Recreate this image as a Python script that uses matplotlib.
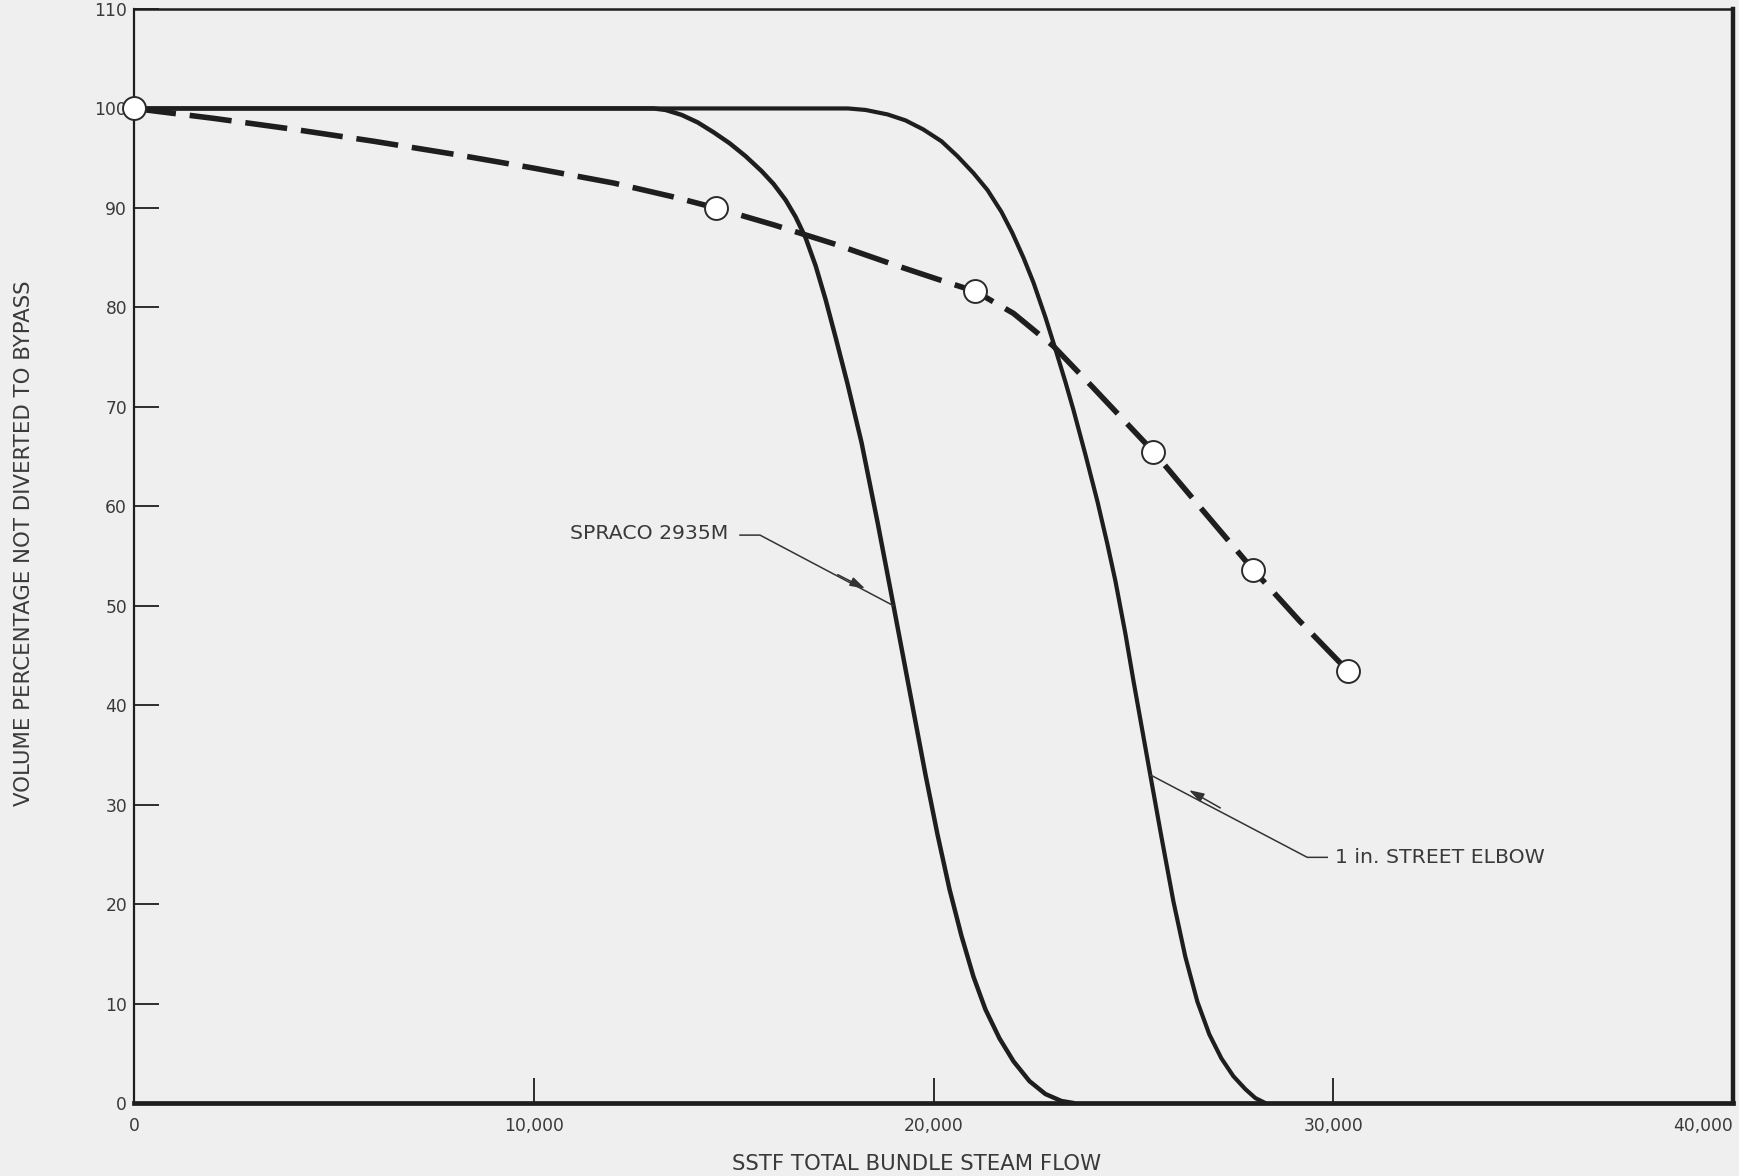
import matplotlib
matplotlib.use("Agg")
import matplotlib.pyplot as plt

# ---- data (steam flow, percent not diverted) ----
spraco_x = [0, 5000, 10000, 13000, 13300, 13700, 14100, 14500, 14900, 15300, 15700,
            16000, 16300, 16550, 16800, 17050, 17300, 17550, 17850, 18200, 18600,
            19000, 19400, 19800, 20100, 20400, 20700, 21000, 21300, 21650, 22000,
            22400, 22800, 23200, 23500]
spraco_y = [100, 100, 100, 100, 99.85, 99.35, 98.6, 97.6, 96.5, 95.2, 93.7,
            92.4, 90.8, 89.1, 87.0, 84.2, 80.8, 77.0, 72.3, 66.4, 58.4,
            50.0, 41.5, 33.0, 27.0, 21.5, 16.8, 12.7, 9.4, 6.5, 4.2,
            2.2, 0.9, 0.2, 0]

elbow_x = [0, 10000, 17860, 18300, 18850, 19300, 19740, 20200, 20600, 21000, 21350,
           21700, 21970, 22250, 22500, 22800, 23050, 23300, 23500, 23800, 24100,
           24350, 24550, 24800, 25000, 25200, 25400, 25700, 26000, 26300, 26600,
           26900, 27200, 27500, 27800, 28050, 28300]
elbow_y = [100, 100, 100, 99.85, 99.4, 98.8, 97.9, 96.7, 95.2, 93.5, 91.8,
           89.6, 87.5, 85.0, 82.5, 79.0, 75.8, 72.5, 69.7, 65.2, 60.5,
           56.2, 52.5, 47.2, 42.5, 38.0, 33.5, 26.8, 20.3, 14.7, 10.2,
           6.9, 4.5, 2.7, 1.4, 0.5, 0]

dashed_x = [0, 1000, 2000, 4000, 6000, 8000, 10000, 12000, 13500, 14550, 16000,
            17500, 19000, 20200, 21050, 22000, 23000, 24000, 25500, 26650, 28000,
            29150, 30380]
dashed_y = [100, 99.5, 99.0, 97.9, 96.7, 95.4, 94.0, 92.5, 91.1, 90.0, 88.3,
            86.4, 84.3, 82.7, 81.6, 79.4, 76.1, 71.9, 65.5, 60.0, 53.6,
            48.5, 43.4]

point_x = [0, 14550, 21050, 25500, 28000, 30380]
point_y = [100, 90.0, 81.6, 65.5, 53.6, 43.4]

x_ticks = [0, 10000, 20000, 30000, 40000]
x_ticklabels = ["0", "10,000", "20,000", "30,000", "40,000"]
y_ticks = [0, 10, 20, 30, 40, 50, 60, 70, 80, 90, 100, 110]

label_spraco = "SPRACO 2935M"
label_elbow = "1 in. STREET ELBOW"
xlabel = "SSTF TOTAL BUNDLE STEAM FLOW"
ylabel = "VOLUME PERCENTAGE NOT DIVERTED TO BYPASS"

# ---- figure ----
W, H = 1739, 1176
bg = "#efefef"
ink = "#1e1e1e"
txt = "#3a3a3a"
plt.rcParams["font.family"] = ["DejaVu Sans"]

fig = plt.figure(figsize=(W / 100, H / 100), dpi=100, facecolor=bg)
ax = fig.add_axes([134 / W, 1 - 1103 / H, (1733 - 134) / W, (1103 - 9) / H])
ax.set_facecolor(bg)
ax.set_xlim(0, 40000)
ax.set_ylim(0, 110)

ax.plot(spraco_x, spraco_y, color=ink, lw=3.2, solid_capstyle="round",
        solid_joinstyle="round", zorder=3)
ax.plot(elbow_x, elbow_y, color=ink, lw=3.0, solid_capstyle="round",
        solid_joinstyle="round", zorder=3)
ax.plot(dashed_x, dashed_y, color=ink, lw=4.0, dashes=(7.6, 2.5),
        dash_joinstyle="round", zorder=3)
ax.plot(point_x, point_y, ls="none", marker="o", ms=16.5, mfc="white",
        mec="#2a2a2a", mew=1.4, zorder=5, clip_on=False)

# spines
for side, lw in (("left", 1.6), ("top", 1.8), ("bottom", 3.4), ("right", 3.2)):
    ax.spines[side].set_linewidth(lw)
    ax.spines[side].set_color(ink)

ax.set_xticks(x_ticks)
ax.set_xticklabels(x_ticklabels)
ax.set_yticks(y_ticks)
ax.tick_params(direction="in", length=18, width=1.3, color=ink,
               labelsize=12.3, labelcolor=txt)
ax.tick_params(axis="y", pad=5)
ax.tick_params(axis="x", pad=10)
xl = ax.get_xticklabels()
xl[-1].set_ha("right")

fig.text(24 / W, 1 - 543 / H, ylabel, rotation=90, ha="center", va="center",
         fontsize=15.3, color=txt)
fig.text(917 / W, 1 - 1164 / H, xlabel, ha="center", va="center",
         fontsize=15.3, color=txt)

# annotations (leader lines with small arrowheads)
def leader(text, tip, head, kink, end, text_pos):
    ax.plot([end[0], kink[0], tip[0]], [end[1], kink[1], tip[1]],
            color="#333333", lw=1.1, zorder=4)
    ax.annotate("", xy=head, xytext=(kink[0] + 0.7 * (head[0] - kink[0]),
                                      kink[1] + 0.7 * (head[1] - kink[1])),
                arrowprops=dict(arrowstyle="-|>,head_length=0.9,head_width=0.28",
                                color="#333333", lw=1.1), zorder=4)
    ax.text(text_pos[0], text_pos[1], text, ha="left", va="center",
            fontsize=14.7, color=txt)

leader(label_spraco, tip=(19000, 50.0), head=(18350, 51.6),
       kink=(15660, 57.1), end=(15160, 57.1), text_pos=(10900, 57.3))
leader(label_elbow, tip=(25420, 33.0), head=(26330, 31.6),
       kink=(29350, 24.7), end=(29850, 24.7), text_pos=(30050, 24.7))

fig.savefig("out.png", dpi=100, facecolor=bg)
